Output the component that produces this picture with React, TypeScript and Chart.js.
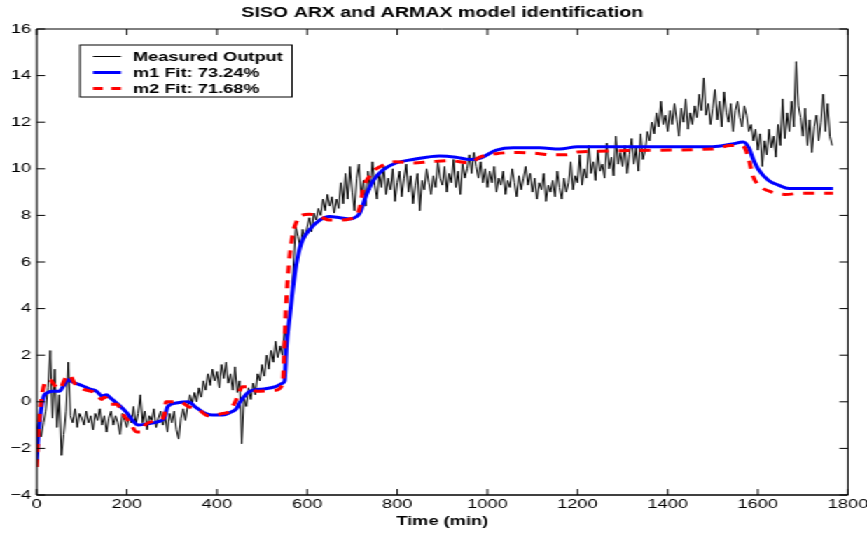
import React, { useEffect, useRef } from "react";
import { Chart, registerables } from "chart.js";

Chart.register(...registerables);

const TITLE = "SISO ARX and ARMAX model identification";
const X_LABEL = "Time (min)";
const LEGEND_LABELS = ["Measured Output", "m1 Fit: 73.24%", "m2 Fit: 71.68%"];
const X_TICKS = [0, 200, 400, 600, 800, 1000, 1200, 1400, 1600, 1800];
const Y_TICKS = [-4, -2, 0, 2, 4, 6, 8, 10, 12, 14, 16];

// Measured output, one sample every 5 min starting at t = 0
const MEAS_STEP = 5;
const measuredOutput = [
  -1.2, -0.8, -1.5, -0.9, -0.4, 0.6, 2.2, -0.7, 1.4, -1.1, 0.3, -2.3, -1.4, -0.4, 1.7, -0.6, -0.9, -0.3, -1.1, -0.5,
  -0.7, -1.0, -0.4, -0.9, -0.6, -1.2, -0.5, -0.8, -0.3, -1.0, -0.6, -1.3, -0.7, -0.4, -1.0, -0.6, -0.9, -1.4, -0.5, -0.8,
  -1.1, -0.6, -0.9, -0.2, -1.0, -0.5, 0.3, -0.9, -0.4, -1.2, -0.6, -0.8, -0.3, -1.1, -0.7, -0.4, -1.0, -0.6, -1.3, -0.5,
  -0.9, -0.4, -1.2, -1.6, -0.7, -0.3, -0.8, -0.2, 0.3, -0.1, 0.4, 0.0, 0.6, 0.2, 0.9, 0.5, 1.2, 0.7, 1.4, 0.9,
  1.3, 0.6, 1.6, 1.0, 1.7, 0.8, 1.2, 0.5, 1.5, 0.4, 0.9, -1.8, 0.2, -0.2, 0.6, 0.1, 0.8, 0.3, 1.2, 0.9,
  1.6, 1.1, 2.0, 1.4, 2.2, 1.7, 2.6, 1.9, 2.4, 2.0, 3.1, 2.5, 3.4, 4.3, 6.0, 7.5, 7.1, 6.6, 7.4, 7.0,
  7.5, 7.9, 7.3, 8.1, 7.8, 8.3, 8.0, 8.7, 8.2, 8.9, 8.4, 8.8, 8.1, 8.7, 8.3, 9.4, 8.5, 9.8, 8.7, 10.1,
  9.0, 8.2, 9.6, 10.2, 8.8, 9.5, 8.4, 9.9, 9.1, 10.3, 9.3, 8.7, 9.8, 9.2, 10.1, 8.9, 9.6, 9.1, 10.0, 8.6,
  9.4, 9.9, 8.8, 9.6, 10.2, 9.0, 9.7, 8.5, 9.3, 9.8, 8.2, 9.5, 9.1, 10.0, 9.4, 8.9, 9.7, 9.2, 10.3, 9.6,
  9.3, 10.1, 9.0, 9.8, 9.4, 10.4, 9.2, 9.9, 8.9, 10.2, 9.6, 10.0, 10.6, 9.8, 10.7, 10.1, 9.6, 10.3, 9.4, 10.0,
  9.2, 9.9, 9.4, 10.1, 9.0, 9.6, 9.3, 9.9, 8.9, 9.5, 9.2, 10.0, 9.4, 8.8, 9.7, 9.1, 9.6, 10.1, 9.3, 9.8,
  9.0, 9.6, 8.7, 9.4, 9.1, 9.8, 8.6, 9.3, 9.0, 9.5, 8.8, 9.9, 9.2, 8.7, 9.6, 9.0, 9.4, 10.3, 9.1, 9.7,
  9.4, 10.6, 9.3, 10.0, 9.6, 11.0, 9.8, 10.3, 9.5, 10.8, 9.9, 10.2, 9.6, 11.1, 10.0, 10.5, 9.7, 11.4, 10.2, 10.7,
  10.1, 11.0, 9.8, 10.6, 11.3, 10.2, 10.9, 9.9, 11.5, 10.4, 10.8, 11.6, 11.2, 12.0, 11.5, 12.4, 11.8, 12.9, 11.9, 12.3,
  11.6, 12.5, 11.9, 12.8, 12.1, 11.4, 12.6, 12.0, 13.0, 11.7, 12.4, 11.9, 12.7, 12.2, 13.2, 12.5, 13.9, 12.3, 12.8, 11.9,
  12.6, 13.4, 12.1, 12.9, 11.8, 13.3, 12.4, 12.0, 12.8, 11.6, 12.5, 12.9, 12.2, 11.8, 12.7, 12.3, 11.6, 11.9, 11.2, 11.7,
  10.8, 11.5, 10.1, 11.2, 10.6, 11.7, 10.9, 11.4, 10.5, 11.9, 11.0, 13.0, 11.3, 12.4, 11.6, 12.9, 11.8, 14.6, 12.7, 12.2,
  11.4, 12.6, 11.0, 12.1, 10.7, 11.8, 12.3, 11.2, 12.0, 13.2, 11.6, 12.8, 11.4, 11.0,
];

// m1 (ARX) simulated output
const m1Time = [
  0, 4, 8, 15, 25, 36, 50, 60, 70, 80, 100, 118, 133, 145, 155, 162, 177, 199, 215, 225,
  243, 270, 283, 291, 310, 336, 354, 375, 391, 413, 430, 443, 450, 473, 503, 530, 546, 550, 554, 561,
  568, 576, 587, 606, 628, 650, 673, 695, 710, 717, 732, 747, 768, 797, 835, 894, 930, 961, 983, 1020,
  1057, 1116, 1160, 1200, 1500, 1540, 1568, 1580, 1590, 1602, 1624, 1646, 1669, 1767,
];
const m1Fit = [
  -2.5, -1.3, -0.6, 0.2, 0.4, 0.45, 0.45, 0.7, 0.95, 0.85, 0.7, 0.55, 0.45, 0.25, 0.3, 0.2, -0.05, -0.45, -0.85, -1.0,
  -0.95, -0.85, -0.7, -0.2, -0.05, 0.0, -0.25, -0.5, -0.57, -0.57, -0.45, -0.3, -0.05, 0.45, 0.55, 0.65, 0.8, 0.9, 2.35, 3.6,
  4.8, 5.9, 6.8, 7.4, 7.8, 7.95, 7.9, 7.85, 7.95, 8.1, 8.9, 9.5, 9.95, 10.25, 10.4, 10.55, 10.5, 10.4, 10.45, 10.8,
  10.9, 10.9, 10.85, 10.95, 10.95, 11.05, 11.15, 10.9, 10.4, 9.95, 9.5, 9.3, 9.15, 9.15,
];

// m2 (ARMAX) simulated output
const m2Time = [
  0, 4, 11, 18, 29, 40, 51, 62, 73, 84, 103, 133, 144, 150, 155, 162, 177, 192, 207, 222,
  230, 243, 270, 283, 287, 318, 336, 360, 380, 413, 428, 443, 457, 473, 488, 530, 546, 550, 554, 561,
  568, 576, 587, 606, 628, 650, 673, 695, 710, 717, 724, 743, 768, 797, 835, 872, 916, 961, 983, 1020,
  1070, 1116, 1138, 1175, 1200, 1500, 1540, 1560, 1571, 1580, 1590, 1609, 1631, 1661, 1698, 1767,
];
const m2Fit = [
  -2.8, -1.2, 0.2, 0.8, 0.95, 0.7, 0.55, 0.95, 1.15, 0.8, 0.55, 0.35, 0.1, 0.2, 0.15, -0.1, -0.1, -0.55, -0.9, -1.3,
  -1.3, -0.95, -0.8, -0.6, 0.0, 0.0, -0.2, -0.35, -0.6, -0.5, -0.4, 0.1, 0.65, 0.65, 0.45, 0.5, 0.8, 2.6, 4.4, 6.2,
  7.2, 7.7, 8.0, 8.05, 7.95, 7.8, 7.8, 7.85, 8.0, 8.35, 9.1, 9.8, 10.15, 10.3, 10.25, 10.3, 10.35, 10.25, 10.5, 10.65,
  10.7, 10.65, 10.6, 10.6, 10.72, 10.85, 11.0, 11.0, 10.9, 10.4, 9.65, 9.2, 9.0, 8.9, 8.95, 8.95,
];

// Layout constants (canvas units, before the horizontal stretch)
const CANVAS_W = 619;
const CANVAS_H = 534;
const STRETCH = 867 / 619;
const FONT = "'Liberation Sans', Arial, Helvetica, sans-serif";
const TICK_LEN = 6;

const frameAndLegend = {
  id: "matlabFrame",
  afterDatasetsDraw(chart: any) {
    const { ctx, chartArea: a, scales } = chart;
    ctx.save();
    ctx.strokeStyle = "#000";
    ctx.lineWidth = 1;
    ctx.setLineDash([]);
    // box
    ctx.beginPath();
    ctx.moveTo(a.left, a.bottom);
    ctx.lineTo(a.left, a.top);
    ctx.lineTo(a.right, a.top);
    ctx.lineTo(a.right, a.bottom);
    ctx.stroke();
    ctx.lineWidth = 1.6;
    ctx.beginPath();
    ctx.moveTo(a.left, a.bottom);
    ctx.lineTo(a.right, a.bottom);
    ctx.stroke();
    ctx.lineWidth = 1;
    // inward ticks on all four sides
    ctx.beginPath();
    for (const t of scales.x.ticks) {
      const px = scales.x.getPixelForValue(t.value);
      ctx.moveTo(px, a.bottom);
      ctx.lineTo(px, a.bottom - TICK_LEN);
      ctx.moveTo(px, a.top);
      ctx.lineTo(px, a.top + TICK_LEN);
    }
    for (const t of scales.y.ticks) {
      const py = scales.y.getPixelForValue(t.value);
      ctx.moveTo(a.left, py);
      ctx.lineTo(a.left + TICK_LEN, py);
      ctx.moveTo(a.right, py);
      ctx.lineTo(a.right - TICK_LEN, py);
    }
    ctx.stroke();

    // legend box
    const bx = 57.1, by = 45, bw = 151.4, bh = 52;
    ctx.fillStyle = "#fff";
    ctx.fillRect(bx, by, bw, bh);
    ctx.strokeRect(bx, by, bw, bh);
    const rows = [56.5, 72.5, 88.5];
    const styles = [
      { color: "#000", width: 1, dash: [] as number[] },
      { color: "#0000ff", width: 3, dash: [] as number[] },
      { color: "#ff0000", width: 3, dash: [7, 6] },
    ];
    ctx.font = `bold 13px ${FONT}`;
    ctx.textBaseline = "middle";
    ctx.textAlign = "left";
    rows.forEach((y, i) => {
      const s = styles[i];
      ctx.strokeStyle = s.color;
      ctx.lineWidth = s.width;
      ctx.setLineDash(s.dash);
      ctx.beginPath();
      ctx.moveTo(66.4, y);
      ctx.lineTo(86.4, y);
      ctx.stroke();
      ctx.setLineDash([]);
      ctx.fillStyle = "#000";
      ctx.fillText(LEGEND_LABELS[i], 95, y + 0.5);
    });
    ctx.restore();
  },
};

export default function App() {
  const canvasRef = useRef<HTMLCanvasElement | null>(null);

  useEffect(() => {
    if (!canvasRef.current) return;
    const measured = measuredOutput.map((v, i) => ({ x: i * MEAS_STEP, y: v }));
    const m1 = m1Time.map((t, i) => ({ x: t, y: m1Fit[i] }));
    const m2 = m2Time.map((t, i) => ({ x: t, y: m2Fit[i] }));

    const chart = new Chart(canvasRef.current, {
      type: "line",
      data: {
        datasets: [
          {
            label: LEGEND_LABELS[2],
            data: m2,
            borderColor: "#ff0000",
            borderWidth: 3,
            borderDash: [8, 7],
            borderCapStyle: "butt",
            pointRadius: 0,
            cubicInterpolationMode: "monotone",
            fill: false,
          },
          {
            label: LEGEND_LABELS[1],
            data: m1,
            borderColor: "#0000ff",
            borderWidth: 3,
            pointRadius: 0,
            cubicInterpolationMode: "monotone",
            fill: false,
          },
          {
            label: LEGEND_LABELS[0],
            data: measured,
            borderColor: "#000000",
            borderWidth: 1,
            pointRadius: 0,
            tension: 0,
            fill: false,
          },
        ],
      },
      options: {
        animation: false,
        responsive: false,
        maintainAspectRatio: false,
        devicePixelRatio: 1,
        layout: { padding: { left: 0, right: 0, top: 0, bottom: 0 } },
        plugins: {
          legend: { display: false },
          tooltip: { enabled: false },
          title: {
            display: true,
            fullSize: false,
            text: TITLE,
            color: "#000",
            font: { family: FONT, size: 14, weight: "bold", lineHeight: 1.2 },
            padding: { top: 5, bottom: 7.2 },
          },
        },
        scales: {
          x: {
            type: "linear",
            min: 0,
            max: 1800,
            grid: { display: false, drawTicks: false },
            border: { display: false },
            afterBuildTicks: (s: any) => {
              s.ticks = X_TICKS.map((v) => ({ value: v }));
            },
            ticks: {
              color: "#000",
              padding: 1.5,
              maxRotation: 0,
              autoSkip: false,
              font: { family: FONT, size: 13, lineHeight: 1.2 },
              callback: (v: any) => String(v),
            },
            title: {
              display: true,
              text: X_LABEL,
              color: "#000",
              font: { family: FONT, size: 13, weight: "bold", lineHeight: 1.2 },
              padding: { top: 0, bottom: 5 },
            },
            afterFit: (s: any) => {
              s.height = 39;
              s.paddingLeft = 0;
              s.paddingRight = 13.6;
            },
          },
          y: {
            type: "linear",
            min: -4,
            max: 16,
            grid: { display: false, drawTicks: false },
            border: { display: false },
            afterBuildTicks: (s: any) => {
              s.ticks = Y_TICKS.map((v) => ({ value: v }));
            },
            ticks: {
              color: "#000",
              padding: 4,
              autoSkip: false,
              font: { family: FONT, size: 13, lineHeight: 1.2 },
              callback: (v: any) => (Number(v) < 0 ? "\u2212" + Math.abs(Number(v)) : String(v)),
            },
            afterFit: (s: any) => {
              s.width = 26.2;
            },
          },
        },
      },
      plugins: [frameAndLegend],
    } as any);

    return () => chart.destroy();
  }, []);

  return (
    <div
      style={{
        position: "fixed",
        left: 0,
        top: 0,
        width: CANVAS_W,
        height: CANVAS_H,
        transform: `scaleX(${STRETCH})`,
        transformOrigin: "0 0",
        background: "#fff",
      }}
    >
      <canvas ref={canvasRef} width={CANVAS_W} height={CANVAS_H} style={{ display: "block" }} />
    </div>
  );
}
